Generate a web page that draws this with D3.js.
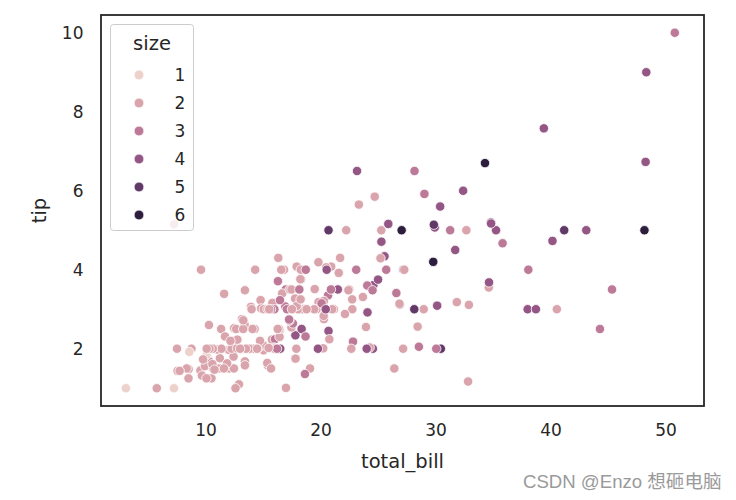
<!DOCTYPE html>
<html><head><meta charset="utf-8">
<script src="https://cdn.jsdelivr.net/npm/d3@7"></script>
<style>body{margin:0;background:#fff}svg{display:block}</style>
</head><body><svg id="c" width="736" height="500"></svg>
<script>
const totalBill=[16.99,10.34,21.01,23.68,24.59,25.29,8.77,26.88,15.04,14.78,
10.27,35.26,15.42,18.43,14.83,21.58,10.33,16.29,16.97,20.65,
17.92,20.29,15.77,39.42,19.82,17.81,13.37,12.69,21.70,19.65,
9.55,18.35,15.06,20.69,17.78,24.06,16.31,16.93,18.69,31.27,
16.04,17.46,13.94,9.68,30.40,18.29,22.23,32.40,28.55,18.04,
12.54,10.29,34.81,9.94,25.56,19.49,38.01,26.41,11.24,48.27,
20.29,13.81,11.02,18.29,17.59,20.08,16.45,3.07,20.23,15.01,
12.02,17.07,26.86,25.28,14.73,10.51,17.92,27.20,22.76,17.29,
19.44,16.66,10.07,32.68,15.98,34.83,13.03,18.28,24.71,21.16,
28.97,22.49,5.75,16.32,22.75,40.17,27.28,12.03,21.01,12.46,
11.35,15.38,44.30,22.42,20.92,15.36,20.49,25.21,18.24,14.31,
14.00,7.25,38.07,23.95,25.71,17.31,29.93,10.65,12.43,24.08,
11.69,13.42,14.26,15.95,12.48,29.80,8.52,14.52,11.38,22.82,
19.08,20.27,11.17,12.26,18.26,8.51,10.33,14.15,16.00,13.16,
17.47,34.30,41.19,27.05,16.43,8.35,18.64,11.87,9.78,7.51,
14.07,13.13,17.26,24.55,19.77,29.85,48.17,25.00,13.39,16.49,
21.50,12.66,16.21,13.81,17.51,24.52,20.76,31.71,10.59,10.63,
50.81,15.81,7.25,31.85,16.82,32.90,17.89,14.48,9.60,34.63,
34.65,23.33,45.35,23.17,40.55,20.69,20.90,30.46,18.15,23.10,
15.69,19.81,28.44,15.48,16.58,7.56,10.34,43.11,13.00,13.51,
18.71,12.74,13.00,16.40,20.53,16.47,26.59,38.73,24.27,12.76,
30.06,25.89,48.33,13.27,28.17,12.90,28.15,11.59,7.74,30.14,
12.16,13.42,8.58,15.98,13.42,16.27,10.09,20.45,13.28,22.12,
24.01,15.69,11.61,10.77,15.53,10.07,12.60,32.83,35.83,29.03,
27.18,22.67,17.82,18.78];
const tip=[1.01,1.66,3.50,3.31,3.61,4.71,2.00,3.12,1.96,3.23,
1.71,5.00,1.57,3.00,3.02,3.92,1.67,3.71,3.50,3.35,
4.08,2.75,2.23,7.58,3.18,2.34,2.00,2.00,4.30,3.00,
1.45,2.50,3.00,2.45,3.27,3.60,2.00,3.07,2.31,5.00,
2.24,2.54,3.06,1.32,5.60,3.00,5.00,6.00,2.05,3.00,
2.50,2.60,5.20,1.56,4.34,3.51,3.00,1.50,1.76,6.73,
3.21,2.00,1.98,3.76,2.64,3.15,2.47,1.00,2.01,2.09,
1.97,3.00,3.14,5.00,2.20,1.25,3.08,4.00,3.00,2.71,
3.00,3.40,1.83,5.00,2.03,5.17,2.00,4.00,5.85,3.00,
3.00,3.50,1.00,4.30,3.25,4.73,4.00,1.50,3.00,1.50,
2.50,3.00,2.50,3.48,4.08,1.64,4.06,4.29,3.76,4.00,
3.00,1.00,4.00,2.55,4.00,3.50,5.07,1.50,1.80,2.92,
2.31,1.68,2.50,2.00,2.52,4.20,1.48,2.00,2.00,2.18,
1.50,2.83,1.50,2.00,3.25,1.25,2.00,2.00,2.00,2.75,
3.50,6.70,5.00,5.00,2.30,1.50,1.36,1.63,1.73,2.00,
2.50,2.00,2.74,2.00,2.00,5.14,5.00,3.75,2.61,2.00,
3.50,2.50,2.00,2.00,3.00,3.48,2.24,4.50,1.61,2.00,
10.00,3.16,5.15,3.18,4.00,3.11,2.00,2.00,4.00,3.55,
3.68,5.65,3.50,6.50,3.00,5.00,3.50,2.00,3.50,4.00,
1.50,4.19,2.56,2.02,4.00,1.44,2.00,5.00,2.00,2.00,
4.00,2.01,2.00,2.50,4.00,3.23,3.41,3.00,2.03,2.23,
2.00,5.16,9.00,2.50,6.50,1.10,3.00,1.50,1.44,3.09,
2.20,3.48,1.92,3.00,1.58,2.50,2.00,3.00,2.72,2.88,
2.00,3.00,3.39,1.47,3.00,1.25,1.00,1.17,4.67,5.92,
2.00,2.00,1.75,3.00];
const size=[2,3,3,2,4,4,2,4,2,2,
2,4,2,4,2,2,3,3,3,3,
2,2,2,4,2,4,2,2,2,2,
2,4,2,4,2,3,3,3,3,3,
3,2,2,2,4,2,2,4,3,2,
2,2,4,2,4,2,4,2,2,4,
2,2,2,4,3,3,2,1,2,2,
2,3,2,2,2,2,2,4,2,2,
2,2,1,2,2,4,2,2,2,2,
2,2,2,2,2,4,2,2,2,2,
2,2,3,2,2,2,2,2,2,2,
2,1,3,2,3,2,4,2,2,4,
2,2,2,2,2,6,2,2,2,3,
2,2,2,2,2,2,2,2,2,2,
2,6,5,6,2,2,3,2,2,2,
2,2,3,4,4,5,6,4,2,4,
4,2,3,2,2,3,2,4,2,2,
3,2,2,2,2,2,2,2,2,2,
4,2,3,4,2,5,3,5,3,3,
2,2,2,2,2,2,2,4,2,2,
3,2,2,2,4,3,3,4,2,2,
3,4,4,2,3,2,5,2,2,4,
2,2,1,3,2,2,2,4,2,2,
4,3,2,2,2,2,2,2,3,3,
2,2,2,2];
const xTicks=[10,20,30,40,50];
const yTicks=[2,4,6,8,10];
const sizeLevels=[1,2,3,4,5,6];

// seaborn default "ch:" cubehelix colormap (light .85 -> dark .15)
function cubehelix(x){
  const s=0,r=0.4,h=0.8,g=1;
  const xg=Math.pow(x,g), a=h*xg*(1-xg)/2, phi=2*Math.PI*(s/3+r*x);
  const f=(p0,p1)=>Math.max(0,Math.min(1,xg+a*(p0*Math.cos(phi)+p1*Math.sin(phi))));
  return d3.rgb(f(-0.14861,1.78277)*255,f(-0.29227,-0.90649)*255,f(1.97294,0)*255).formatHex();
}
const lam=d3.scaleLinear().domain([1,6]).range([0.85,0.15]);
const color=v=>cubehelix(lam(v));

const svg=d3.select("#c");
const L=101,R=704,T=15,B=406;
const x=d3.scaleLinear().domain([0.9,53.35]).range([L,R]);
const y=d3.scaleLinear().domain([0.55,10.45]).range([B,T]);
const font="'DejaVu Sans', sans-serif";
const ink="#262626";

const data=totalBill.map((d,i)=>({x:d,y:tip[i],s:size[i]}));
svg.append("g").selectAll("circle").data(data).join("circle")
  .attr("cx",d=>x(d.x)).attr("cy",d=>y(d.y)).attr("r",4.7)
  .attr("fill",d=>color(d.s)).attr("stroke","#fff").attr("stroke-width",0.8);

// axes
const gx=svg.append("g").attr("transform",`translate(0,${B})`)
  .call(d3.axisBottom(x).tickValues(xTicks).tickSize(0).tickPadding(18).tickFormat(d3.format("d")));
const gy=svg.append("g").attr("transform",`translate(${L},0)`)
  .call(d3.axisLeft(y).tickValues(yTicks).tickSize(0).tickPadding(17.5).tickFormat(d3.format("d")));
[gx,gy].forEach(g=>{
  g.select(".domain").remove();
  g.selectAll("text").attr("font-family",font).attr("font-size",17).attr("fill",ink);
});

// frame
svg.append("rect").attr("x",L).attr("y",T).attr("width",R-L).attr("height",B-T)
  .attr("fill","none").attr("stroke",ink).attr("stroke-width",1.8);

// labels
svg.append("text").attr("x",(L+R)/2).attr("y",468).attr("text-anchor","middle")
  .attr("font-family",font).attr("font-size",19.5).attr("fill",ink).text("total_bill");
svg.append("text").attr("transform",`translate(45.5,${(T+B)/2}) rotate(-90)`).attr("text-anchor","middle")
  .attr("font-family",font).attr("font-size",19.5).attr("fill",ink).text("tip");

// legend
const lg=svg.append("g");
lg.append("rect").attr("x",110.5).attr("y",24.5).attr("width",83).attr("height",206).attr("rx",3)
  .attr("fill","#fff").attr("fill-opacity",0.8).attr("stroke","#cccccc").attr("stroke-width",1);
lg.append("text").attr("x",152).attr("y",50).attr("text-anchor","middle")
  .attr("font-family",font).attr("font-size",19.5).attr("fill",ink).text("size");
const ly=d3.scalePoint().domain(sizeLevels).range([75,215]);
const items=lg.selectAll("g.it").data(sizeLevels).join("g").attr("class","it")
  .attr("transform",d=>`translate(0,${ly(d)})`);
items.append("circle").attr("cx",139).attr("cy",0).attr("r",4.9).attr("fill",d=>color(d))
  .attr("stroke","#fff").attr("stroke-width",0.8);
items.append("text").attr("x",174.5).attr("y",6.2).attr("font-family",font).attr("font-size",17)
  .attr("fill",ink).text(d=>d);

// watermark
svg.append("text").attr("x",523).attr("y",488)
  .attr("font-family","'Liberation Sans','Noto Sans CJK SC',sans-serif").attr("font-size",18.6)
  .attr("fill","#9a9a9a").text("CSDN @Enzo 想砸电脑");
</script></body></html>
